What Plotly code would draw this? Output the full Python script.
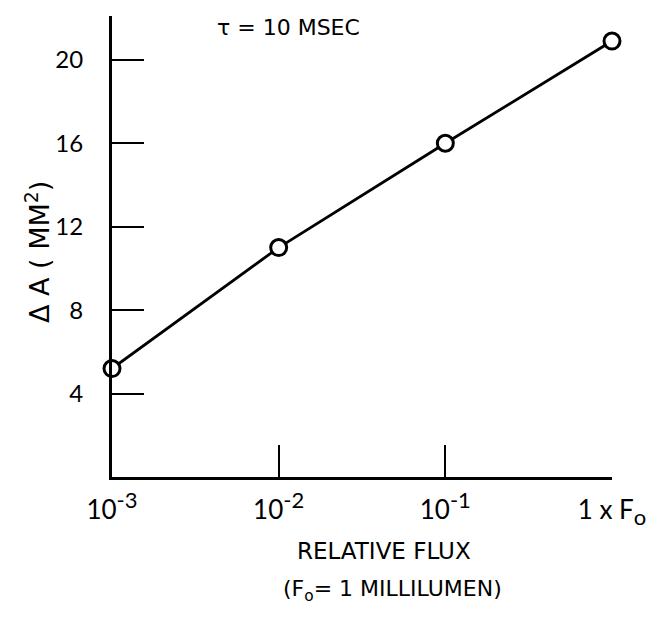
import plotly.graph_objects as go

# Data
flux = [1e-3, 1e-2, 1e-1, 1.0]
delta_a = [5.2, 11.0, 16.0, 20.9]
x_tickvals = [1e-3, 1e-2, 1e-1, 1.0]
x_ticktext = ["10<sup><span style='font-size:22px'>-3</span></sup>",
              "10<sup><span style='font-size:22px'>-2</span></sup>",
              "10<sup><span style='font-size:22px'>-1</span></sup>",
              "1 x F<sub><span style='font-size:22px'>o</span></sub>"]
y_tickvals = [4, 8, 12, 16, 20]
y_ticktext = ["4", "8", "12", "16", "20"]

TEXT_FONT = "'DejaVu Sans', 'Open Sans', sans-serif"
NUM_FONT = "'Liberation Sans Narrow', Lato, sans-serif"

fig = go.Figure()
fig.add_trace(go.Scatter(
    x=flux, y=delta_a, mode="lines+markers",
    line=dict(color="black", width=2.8),
    marker=dict(size=16, color="white", line=dict(color="black", width=3)),
    cliponaxis=False, showlegend=False,
))

fig.update_layout(
    width=658, height=617,
    margin=dict(l=112, r=46, t=16, b=140),
    paper_bgcolor="white", plot_bgcolor="white",
    font=dict(family=TEXT_FONT, color="black", size=20),
    xaxis=dict(
        type="log", range=[-3, 0],
        tickvals=x_tickvals, ticktext=x_ticktext,
        ticks="inside", ticklen=32, tickwidth=1.5, tickcolor="black",
        showline=True, linewidth=3, linecolor="black",
        showgrid=False, zeroline=False,
        ticklabelstandoff=8,
        tickfont=dict(size=26, family=NUM_FONT),
    ),
    yaxis=dict(
        range=[0, 22.1],
        tickvals=y_tickvals, ticktext=y_ticktext,
        ticks="inside", ticklen=32, tickwidth=1.5, tickcolor="black",
        showline=True, linewidth=3, linecolor="black",
        showgrid=False, zeroline=False,
        ticklabelstandoff=21,
        tickfont=dict(size=24, family=NUM_FONT),
    ),
)

pw = 658 - 112 - 46
ph = 617 - 16 - 140
def px(x):
    return (x - 112) / pw
def py(y):
    return (617 - 140 - y) / ph

fig.add_annotation(text="τ = 10 MSEC", x=px(288), y=py(27), xref="paper", yref="paper",
                   showarrow=False, xanchor="center", yanchor="middle", font=dict(size=22))
fig.add_annotation(text="RELATIVE FLUX", x=px(384), y=py(551), xref="paper", yref="paper",
                   showarrow=False, xanchor="center", yanchor="middle", font=dict(size=23))
fig.add_annotation(text="(F<sub>o</sub>= 1 MILLILUMEN)", x=px(392), y=py(590), xref="paper",
                   yref="paper", showarrow=False, xanchor="center", yanchor="middle",
                   font=dict(size=22))
fig.add_annotation(text="Δ A ( MM<sup>2</sup>)", x=px(37), y=py(252), xref="paper", yref="paper",
                   showarrow=False, textangle=-90, xanchor="center", yanchor="middle",
                   font=dict(size=27))

fig.write_html("out.html")
